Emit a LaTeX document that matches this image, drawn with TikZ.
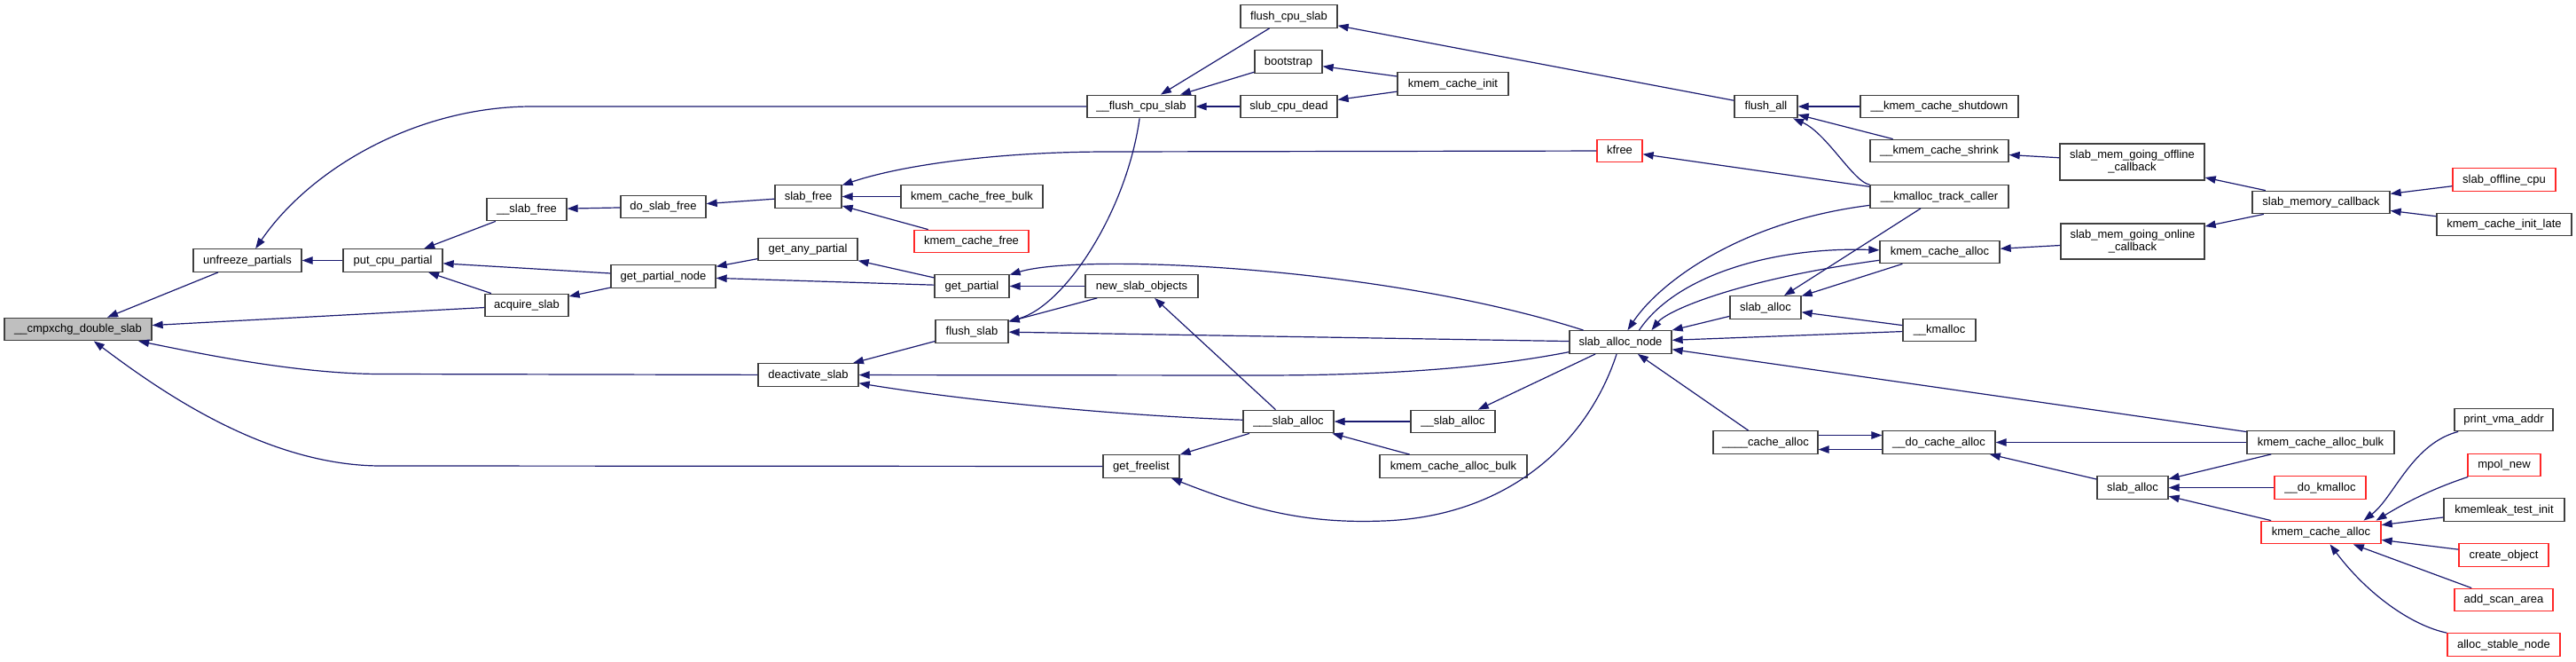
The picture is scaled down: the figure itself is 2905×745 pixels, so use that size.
\documentclass[tikz,border=0pt]{standalone}
\usepackage{fontspec}
\setmainfont{Liberation Sans}
\usetikzlibrary{arrows.meta}
\definecolor{edgec}{RGB}{25,25,112}
\definecolor{boxc}{RGB}{64,64,64}
\definecolor{redc}{RGB}{255,40,40}
\definecolor{rootfill}{RGB}{191,191,191}
\begin{document}
\begin{tikzpicture}[x=1pt,y=-1pt,
  fn/.style={draw=boxc, line width=1.3pt, fill=white, inner sep=0pt,
    minimum height=25.5pt, font=\fontsize{13}{14}\selectfont,
    text height=9.5pt, text depth=2.5pt},
  fntwo/.style={draw=boxc, line width=1.3pt, fill=white, inner sep=0pt,
    font=\fontsize{13}{14}\selectfont, align=center},
  fnred/.style={fn, draw=redc},
  fnroot/.style={fn, fill=rootfill},
  e/.style={draw=edgec, line width=1.2pt, {Triangle[length=12pt,width=8.5pt]}-}
]
\useasboundingbox[fill=white] (0,0) rectangle (2905,745);

% nodes
\node[fnroot, minimum width=166pt] (cmp) at (88,371) {\_\_cmpxchg\_double\_slab};
\node[fn, minimum width=122pt] (unf) at (279,293.5) {unfreeze\_partials};
\node[fn, minimum width=112pt] (pcp) at (443,293.5) {put\_cpu\_partial};
\node[fn, minimum width=90pt] (sfree2) at (594,236) {\_\_slab\_free};
\node[fn, minimum width=94pt] (acq) at (594,344) {acquire\_slab};
\node[fn, minimum width=96pt] (dsf) at (748,233) {do\_slab\_free};
\node[fn, minimum width=118pt] (gpn) at (748,311.5) {get\_partial\_node};
\node[fn, minimum width=75pt] (sfree) at (911.5,221.5) {slab\_free};
\node[fn, minimum width=160pt] (kcfb) at (1096,221.5) {kmem\_cache\_free\_bulk};
\node[fnred, minimum width=129pt] (kcf) at (1095.5,272) {kmem\_cache\_free};
\node[fn, minimum width=112pt] (gap) at (911,281) {get\_any\_partial};
\node[fn, minimum width=84pt] (gp) at (1096,322.5) {get\_partial};
\node[fn, minimum width=127pt] (nso) at (1287.5,322.5) {new\_slab\_objects};
\node[fn, minimum width=82pt] (fs) at (1096,373.5) {flush\_slab};
\node[fn, minimum width=113pt] (ds) at (911.5,422.5) {deactivate\_slab};
\node[fn, minimum width=86pt] (gf) at (1287,525.5) {get\_freelist};
\node[fn, minimum width=122pt] (fcs2) at (1287,120) {\_\_flush\_cpu\_slab};
\node[fn, minimum width=109pt] (fcs) at (1453.5,18.5) {flush\_cpu\_slab};
\node[fn, minimum width=76pt] (boot) at (1453,69.5) {bootstrap};
\node[fn, minimum width=109pt] (scd) at (1453.5,120) {slub\_cpu\_dead};
\node[fn, minimum width=125pt] (kci) at (1638.5,94.5) {kmem\_cache\_init};
\node[fn, minimum width=71pt] (fa) at (1991.5,120) {flush\_all};
\node[fnred, minimum width=51pt] (kfree) at (1826.5,170) {kfree};
\node[fn, minimum width=178pt] (kcsd) at (2187,120) {\_\_kmem\_cache\_shutdown};
\node[fn, minimum width=156pt] (kcsh) at (2187,170) {\_\_kmem\_cache\_shrink};
\node[fn, minimum width=156pt] (kmtc) at (2187,221.5) {\_\_kmalloc\_track\_caller};
\node[fn, minimum width=135pt] (kca) at (2187.5,284) {kmem\_cache\_alloc};
\node[fn, minimum width=80pt] (sa) at (1991,346.5) {slab\_alloc};
\node[fn, minimum width=115pt] (san) at (1827.5,385.5) {slab\_alloc\_node};
\node[fn, minimum width=82pt] (km) at (2187,372) {\_\_kmalloc};
\node[fn, minimum width=102pt] (sla1) at (1453,475) {\_\_\_slab\_alloc};
\node[fn, minimum width=95pt] (sla2) at (1638.5,475) {\_\_slab\_alloc};
\node[fn, minimum width=166pt] (kcab1) at (1639,525.5) {kmem\_cache\_alloc\_bulk};
\node[fn, minimum width=118pt] (ca4) at (1991,498.5) {\_\_\_\_cache\_alloc};
\node[fn, minimum width=127pt] (dca) at (2186.5,498.5) {\_\_do\_cache\_alloc};
\node[fntwo, minimum width=163pt, minimum height=41pt] (smoff) at (2404.5,182.5) {slab\_mem\_going\_offline\\\_callback};
\node[fntwo, minimum width=162pt, minimum height=40pt] (smon) at (2405,272) {slab\_mem\_going\_online\\\_callback};
\node[fn, minimum width=155pt] (smc) at (2617.5,228) {slab\_memory\_callback};
\node[fnred, minimum width=116pt] (soc) at (2824,202.5) {slab\_offline\_cpu};
\node[fn, minimum width=152pt] (kcil) at (2824,253) {kmem\_cache\_init\_late};
\node[fn, minimum width=166pt] (kcab2) at (2617,498.5) {kmem\_cache\_alloc\_bulk};
\node[fn, minimum width=80pt] (sa2) at (2405,549.5) {slab\_alloc};
\node[fnred, minimum width=103pt] (dkm) at (2616.5,549.5) {\_\_do\_kmalloc};
\node[fnred, minimum width=135pt] (kca2) at (2617.5,600) {kmem\_cache\_alloc};
\node[fn, minimum width=111pt] (pva) at (2823.5,473) {print\_vma\_addr};
\node[fnred, minimum width=82pt] (mpol) at (2824,524) {mpol\_new};
\node[fn, minimum width=136pt] (klti) at (2824,574.5) {kmemleak\_test\_init};
\node[fnred, minimum width=101pt] (co) at (2823.5,625.5) {create\_object};
\node[fnred, minimum width=111pt] (asa) at (2823.5,676) {add\_scan\_area};
\node[fnred, minimum width=127pt] (asn) at (2823.5,726.5) {alloc\_stable\_node};

% edges (arrow head at the called function)
\draw[e] (cmp) -- (unf);
\draw[e] (cmp) -- (acq);
\draw[e] (cmp) .. controls (210,395) and (330,421.5) .. (430,421.5) -- (ds);
\draw[e] (cmp) .. controls (180,440) and (300,525) .. (430,525) -- (gf);
\draw[e] (unf) -- (pcp);
\draw[e] (unf) .. controls (350,190) and (470,120) .. (600,120) -- (fcs2);
\draw[e] (pcp) -- (sfree2);
\draw[e] (pcp) -- (gpn);
\draw[e] (pcp) -- (acq);
\draw[e] (sfree2) -- (dsf);
\draw[e] (dsf) -- (sfree);
\draw[e] (sfree) .. controls (1020,185) and (1130,171) .. (1250,171) -- (kfree);
\draw[e] (sfree) -- (kcfb);
\draw[e] (sfree) -- (kcf);
\draw[e] (acq) -- (gpn);
\draw[e] (gpn) -- (gap);
\draw[e] (gpn) -- (gp);
\draw[e] (gap) -- (gp);
\draw[e] (gp) -- (nso);
\draw[e] (gp) .. controls (1220,285) and (1560,300) .. (san);
\draw[e] (fcs2) -- (fcs);
\draw[e] (fcs2) -- (boot);
\draw[e] (fcs2) -- (scd);
\draw[e] (fs) .. controls (1200,345) and (1270,240) .. (fcs2);
\draw[e] (fs) -- (nso);
\draw[e] (fs) -- (san);
\draw[e] (ds) -- (fs);
\draw[e] (ds) -- (1420,423) .. controls (1600,423) and (1700,410) .. (san);
\draw[e] (ds) .. controls (1080,450) and (1250,468) .. (sla1);
\draw[e] (nso) -- (sla1);
\draw[e] (gf) -- (sla1);
\draw[e] (gf) .. controls (1420,578) and (1480,590) .. (1560,587) .. controls (1700,582) and (1790,500) .. (san);
\draw[e] (sla1) -- (sla2);
\draw[e] (sla1) -- (kcab1);
\draw[e] (sla2) -- (san);
\draw[e] (fcs) -- (fa);
\draw[e] (boot) -- (kci);
\draw[e] (scd) -- (kci);
\draw[e] (fa) -- (kcsd);
\draw[e] (fa) -- (kcsh);
\draw[e] (fa) .. controls (2060,150) and (2090,205) .. (kmtc);
\draw[e] (kfree) -- (kmtc);
\draw[e] ([xshift=8pt]san.north) .. controls (1870,320) and (1960,250) .. (kmtc);
\draw[e] (kca) .. controls (2000,278) and (1890,310) .. ([xshift=21pt]san.north);
\draw[e] ([xshift=35pt]san.north) .. controls (1880,350) and (1960,315) .. (kca);
\draw[e] (san.north east) -- (sa);
\draw[e] (sa) -- (kmtc);
\draw[e] (sa) -- (kca);
\draw[e] (sa) -- (km);
\draw[e] (san) -- (km);
\draw[e] (san) -- (ca4);
\draw[e] (san) -- (kcab2);
\draw[e] (kca) -- (smon);
\draw[e] (kcsh) -- (smoff);
\draw[e] (smoff) -- (smc);
\draw[e] (smon) -- (smc);
\draw[e] (smc) -- (soc);
\draw[e] (smc) -- (kcil);
\draw[e] ([yshift=8pt]dca.west) -- ([yshift=8pt]ca4.east);
\draw[e] ([yshift=-8pt]ca4.east) -- ([yshift=-8pt]dca.west);
\draw[e] (dca) -- (kcab2);
\draw[e] (dca) -- (sa2);
\draw[e] (sa2) -- (kcab2);
\draw[e] (sa2) -- (dkm);
\draw[e] (sa2) -- (kca2);
\draw[e] ([xshift=48pt]kca2.north) .. controls (2700,560) and (2720,500) .. (pva);
\draw[e] ([xshift=62pt]kca2.north) .. controls (2715,565) and (2745,550) .. (mpol);
\draw[e] (kca2) -- (klti);
\draw[e] (kca2) -- (co);
\draw[e] (kca2) -- (asa);
\draw[e] (kca2) .. controls (2670,670) and (2720,705) .. (asn);
\end{tikzpicture}
\end{document}
